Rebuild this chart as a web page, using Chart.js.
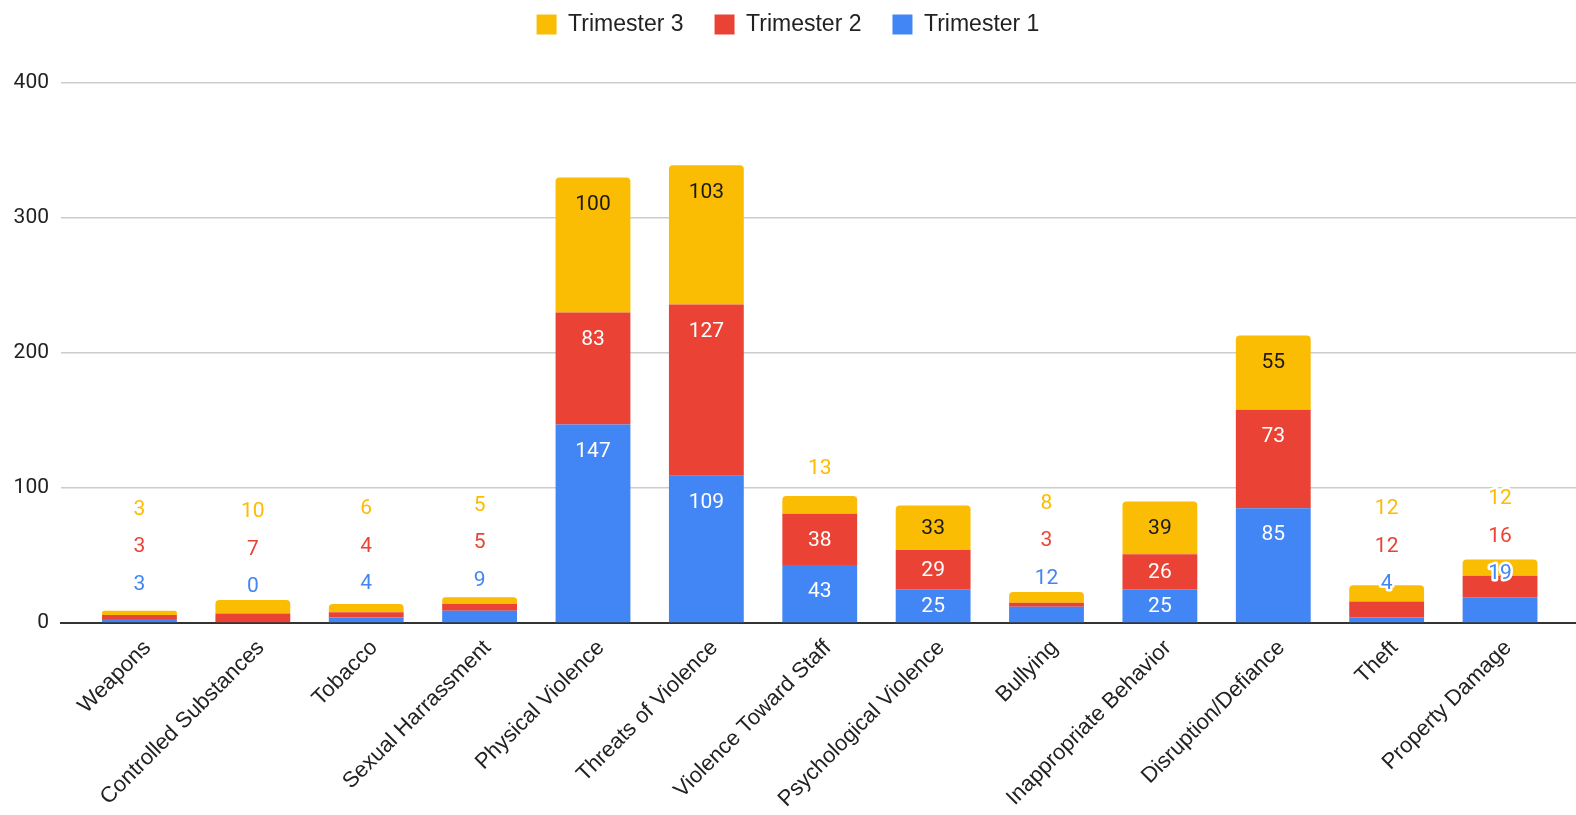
<!DOCTYPE html>
<html>
<head>
<meta charset="utf-8">
<script src="https://cdn.jsdelivr.net/npm/chart.js@4.4.1/dist/chart.umd.min.js"></script>
<style>
  html, body { margin: 0; padding: 0; background: #fff; }
</style>
</head>
<body>
<canvas id="incidentChart" width="1576" height="815"></canvas>
<script>
var categories = [
  'Weapons', 'Controlled Substances', 'Tobacco', 'Sexual Harrassment',
  'Physical Violence', 'Threats of Violence', 'Violence Toward Staff',
  'Psychological Violence', 'Bullying', 'Inappropriate Behavior',
  'Disruption/Defiance', 'Theft', 'Property Damage'
];
var trimester1 = [3, 0, 4, 9, 147, 109, 43, 25, 12, 25, 85, 4, 19];
var trimester2 = [3, 7, 4, 5, 83, 127, 38, 29, 3, 26, 73, 12, 16];
var trimester3 = [3, 10, 6, 5, 100, 103, 13, 33, 8, 39, 55, 12, 12];
var yTicks = [0, 100, 200, 300, 400];

var numFont = 'Roboto';
var textFont = '"Liberation Sans", Arial, sans-serif';

function buildDataset(data, color, label) {
  return {
    label: label,
    data: data.map(function(v, i) { return { x: i, y: v }; }),
    backgroundColor: color,
    borderWidth: 0,
    borderRadius: 4,
    categoryPercentage: 1,
    barPercentage: 0.66
  };
}

// data labels: inside the segment when it is tall enough, otherwise stacked above
var barLabels = {
  id: 'barLabels',
  afterDatasetsDraw: function(chart) {
    var ctx = chart.ctx;
    ctx.save();
    ctx.font = '21px ' + numFont;
    ctx.textAlign = 'center';
    ctx.textBaseline = 'middle';
    ctx.lineJoin = 'round';
    categories.forEach(function(c, i) {
      var lastY = null;
      chart.data.datasets.forEach(function(ds, d) {
        var bar = chart.getDatasetMeta(d).data[i];
        var value = ds.data[i].y;
        var h = bar.base - bar.y;
        var y;
        if (h >= 30) {
          y = bar.y + Math.min(27, h / 2 + 1);
          ctx.fillStyle = d === 2 ? '#1a1a1a' : '#ffffff';
          ctx.fillText(value, bar.x, y);
        } else {
          y = (bar.y + bar.base) / 2 - 36;
          if (lastY !== null) y = Math.min(y, lastY - 37.5);
          ctx.strokeStyle = '#ffffff';
          ctx.lineWidth = 5;
          ctx.strokeText(value, bar.x, y);
          ctx.fillStyle = ds.backgroundColor;
          ctx.fillText(value, bar.x, y);
        }
        lastY = y;
      });
    });
    ctx.restore();
  }
};

new Chart(document.getElementById('incidentChart').getContext('2d'), {
  type: 'bar',
  data: {
    datasets: [
      buildDataset(trimester1, '#4285f4', 'Trimester 1'),
      buildDataset(trimester2, '#ea4335', 'Trimester 2'),
      buildDataset(trimester3, '#fbbc04', 'Trimester 3')
    ]
  },
  options: {
    responsive: false,
    animation: false,
    devicePixelRatio: 1,
    layout: { padding: { top: -18, right: 0, bottom: 0, left: 0 } },
    plugins: {
      legend: {
        display: true,
        position: 'top',
        reverse: true,
        labels: {
          boxWidth: 20,
          boxHeight: 20,
          padding: 31,
          color: '#222',
          font: { family: textFont, size: 23 }
        }
      },
      tooltip: { enabled: false }
    },
    scales: {
      x: {
        type: 'linear',
        stacked: true,
        offset: false,
        min: -0.692,
        max: 12.67,
        grid: { display: false },
        border: { display: true, color: '#333', width: 2 },
        afterBuildTicks: function(scale) {
          scale.ticks = categories.map(function(c, i) { return { value: i }; });
        },
        afterFit: function(scale) { scale.height = 192; },
        ticks: {
          autoSkip: false,
          maxRotation: 45,
          minRotation: 45,
          padding: 4,
          labelOffset: 8,
          color: '#222',
          font: { family: textFont, size: 22 },
          callback: function(value) { return categories[value]; }
        }
      },
      y: {
        stacked: true,
        min: 0,
        max: 427.4,
        border: { display: false },
        afterBuildTicks: function(scale) {
          scale.ticks = yTicks.map(function(v) { return { value: v }; });
        },
        afterFit: function(scale) { scale.width = 61; },
        grid: {
          drawTicks: false,
          color: function(ctx) { return ctx.tick.value === 0 ? 'rgba(0,0,0,0)' : '#cccccc'; },
          lineWidth: 1.5
        },
        ticks: {
          padding: 12,
          color: '#222',
          font: { family: numFont, size: 21 }
        }
      }
    }
  },
  plugins: [barLabels]
});
</script>
</body>
</html>
